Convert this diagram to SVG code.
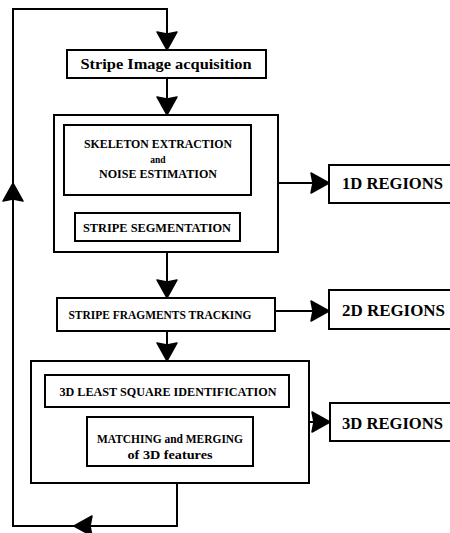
<svg xmlns="http://www.w3.org/2000/svg" width="450" height="533" viewBox="0 0 450 533">
  <style>
    .box { fill: #fff; stroke: #000; stroke-width: 2; }
    .line { fill: none; stroke: #000; stroke-width: 2; }
    .head { fill: #000; stroke: #000; stroke-width: 1.5; stroke-linejoin: round; }
    .t { font-family: "Liberation Serif", "Times New Roman", serif; font-weight: bold; fill: #000; }
    .mid { text-anchor: middle; }
  </style>
  <rect width="450" height="533" fill="#fff"/>

  <!-- connectors; each arrowhead is a solid triangle with a shallow notch, tip on the target edge -->
  <g id="connectors">
    <!-- feedback loop from the 3D stage back to acquisition -->
    <path class="line" d="M177,483 V526 H13 V9 H167 V38"/>
    <path class="head" d="M167,50 L157,32 L167,34 L177,32 Z"/>
    <path class="head" d="M13,183 L3,201 L13,199 L23,201 Z"/>
    <path class="head" d="M74,526 L92,516 L90,526 L92,536 Z"/>

    <path class="line" d="M167,78 V103"/>
    <path class="head" d="M167,115 L157,97 L167,99 L177,97 Z"/>

    <path class="line" d="M167,252 V286"/>
    <path class="head" d="M167,298 L157,280 L167,282 L177,280 Z"/>

    <path class="line" d="M167,331 V349"/>
    <path class="head" d="M167,361 L157,343 L167,345 L177,343 Z"/>

    <path class="line" d="M278,183 H317"/>
    <path class="head" d="M329,183 L311,173 L313,183 L311,193 Z"/>

    <path class="line" d="M275,311 H317"/>
    <path class="head" d="M329,311 L311,301 L313,311 L311,321 Z"/>

    <path class="line" d="M309,422 H318"/>
    <path class="head" d="M330,422 L312,412 L314,422 L312,432 Z"/>
  </g>

  <g id="acquisition">
    <rect class="box" x="67" y="50" width="199" height="28"/>
    <text class="t mid" x="166" y="69" font-size="15.5" textLength="171" lengthAdjust="spacingAndGlyphs">Stripe Image acquisition</text>
  </g>

  <g id="stage1">
    <rect class="box" x="54" y="115" width="224" height="137"/>
    <g id="skeleton">
      <rect class="box" x="64" y="125" width="187" height="70"/>
      <text class="t mid" x="158" y="148" font-size="12" textLength="148" lengthAdjust="spacingAndGlyphs">SKELETON EXTRACTION</text>
      <text class="t mid" x="158" y="163" font-size="9.5">and</text>
      <text class="t mid" x="158" y="178" font-size="12" textLength="118" lengthAdjust="spacingAndGlyphs">NOISE ESTIMATION</text>
    </g>
    <g id="segmentation">
      <rect class="box" x="75" y="213" width="165" height="28"/>
      <text class="t mid" x="157" y="232" font-size="12" textLength="148" lengthAdjust="spacingAndGlyphs">STRIPE SEGMENTATION</text>
    </g>
  </g>

  <g id="regions1d">
    <rect class="box" x="329" y="165" width="126" height="38"/>
    <text class="t" x="342" y="189" font-size="17" textLength="101" lengthAdjust="spacingAndGlyphs">1D  REGIONS</text>
  </g>

  <g id="tracking">
    <rect class="box" x="57" y="298" width="218" height="33"/>
    <text class="t mid" x="160" y="319" font-size="12" textLength="183" lengthAdjust="spacingAndGlyphs">STRIPE FRAGMENTS TRACKING</text>
  </g>

  <g id="regions2d">
    <rect class="box" x="329" y="290" width="126" height="39"/>
    <text class="t" x="342" y="316" font-size="17" textLength="103" lengthAdjust="spacingAndGlyphs">2D  REGIONS</text>
  </g>

  <g id="stage3">
    <rect class="box" x="31" y="361" width="278" height="122"/>
    <g id="leastsquare">
      <rect class="box" x="45" y="375" width="244" height="32"/>
      <text class="t mid" x="168" y="396" font-size="12" textLength="217" lengthAdjust="spacingAndGlyphs">3D LEAST SQUARE IDENTIFICATION</text>
    </g>
    <g id="matching">
      <rect class="box" x="87" y="417" width="166" height="49"/>
      <text class="t mid" x="170" y="443" font-size="12" textLength="146" lengthAdjust="spacingAndGlyphs">MATCHING and MERGING</text>
      <text class="t mid" x="170" y="459" font-size="12" textLength="85" lengthAdjust="spacingAndGlyphs">of 3D features</text>
    </g>
  </g>

  <g id="regions3d">
    <rect class="box" x="330" y="403" width="125" height="38"/>
    <text class="t" x="342" y="429" font-size="17" textLength="101" lengthAdjust="spacingAndGlyphs">3D  REGIONS</text>
  </g>
</svg>
